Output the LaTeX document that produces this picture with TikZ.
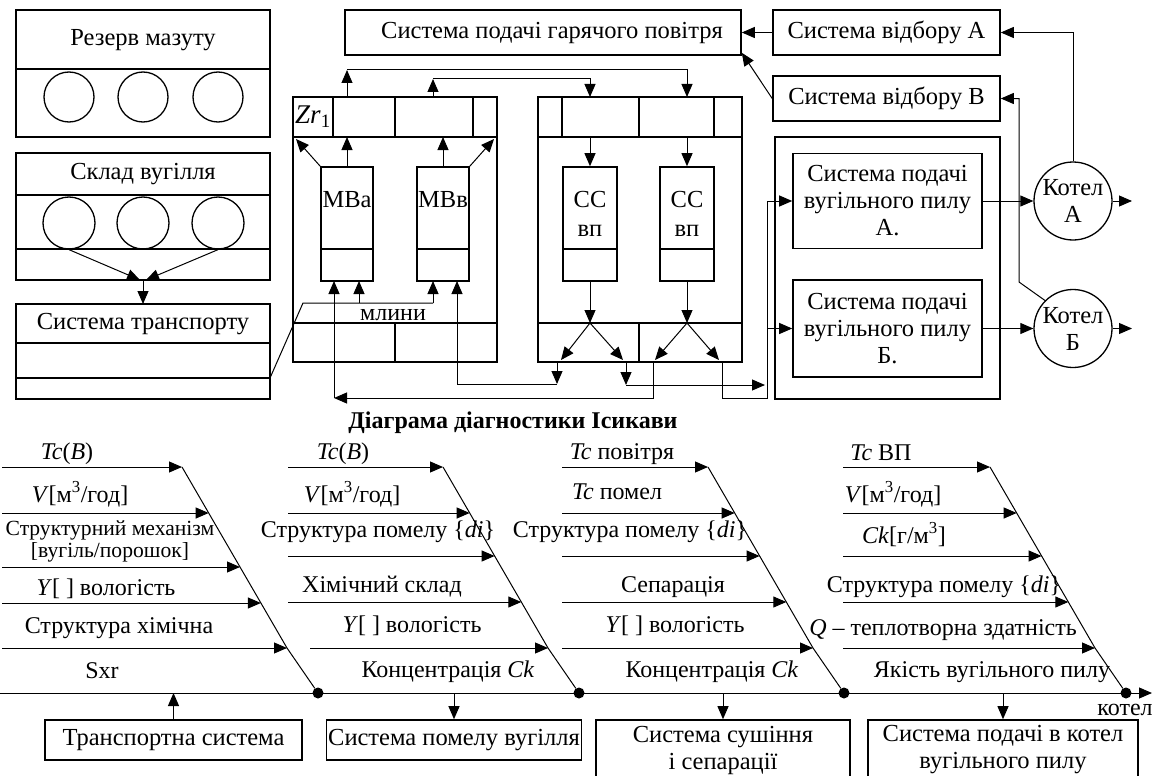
\documentclass[tikz,border=0pt]{standalone}
\usepackage{fontspec}
\setmainfont{Liberation Serif}
\usetikzlibrary{arrows.meta}

\tikzset{
  box/.style={draw, line width=1.6pt, inner sep=0pt},
  frame/.style={line width=2pt},
  thin/.style={line width=1pt},
  conn/.style={line width=1pt, -{Triangle[length=13pt,width=11pt]}},
  txt/.style={font=\fontsize{24.5}{27}\selectfont, inner sep=0pt, align=center},
  fb/.style={font=\fontsize{24}{26}\selectfont, inner sep=0pt, anchor=base},
  tank/.style={circle, draw, line width=1.3pt, minimum size=50pt, inner sep=0pt},
  dot/.style={circle, fill, minimum size=11pt, inner sep=0pt},
}

\begin{document}
\begin{tikzpicture}[x=1pt,y=-1pt]
  \useasboundingbox (0,0) rectangle (1157,776);
  \clip (0,0) rectangle (1157,776);

  % storage
  \draw[box] (16,10) rectangle (270,137);
  \draw[box] (16,69) -- (270,69);
  \node[txt] (mazut) at (143,40) {Резерв мазуту};
  \foreach \x/\n in {69/1,143/2,218/3}
    \node[tank] (r\n) at (\x,97) {};
  \draw[box] (16,153) rectangle (270,280);
  \draw[box] (16,195) -- (270,195);
  \draw[box] (16,249) -- (270,249);
  \node[txt] (sklad) at (143,174) {Склад вугілля};
  \foreach \x/\n in {69/1,143/2,218/3}
    \node[tank, minimum size=52pt] (s\n) at (\x,223) {};
  \coordinate (meet) at (143,280);
  \draw[conn] (s1.south) -- ([xshift=-3pt]meet);
  \draw[conn] (s3.south) -- ([xshift=3pt]meet);
  \draw[box] (16,304) rectangle (270,399);
  \draw[box] (16,343) -- (270,343);
  \draw[box] (16,378) -- (270,378);
  \node[txt] (transp) at (143,324) {Система транспорту};
  \coordinate (transpIn) at (143,304);
  \coordinate (transpOut) at (270,378);
  \draw[conn] (meet) -- (transpIn);

  % mills
  \draw[frame] (293,97) rectangle (497,362);
  \draw[frame] (293,137) -- (497,137);
  \foreach \x in {333,395,473} \draw[frame] (\x,97) -- (\x,137);
  \draw[frame] (293,323) -- (497,323);
  \draw[frame] (395,323) -- (395,362);
  \node[txt, font=\fontsize{27}{29}\selectfont] (zr) at (313,117) {\textit{Zr}\textsubscript{1}};
  \node[box, minimum width=52pt, minimum height=114pt] (mba) at (347,224) {};
  \node[box, minimum width=52pt, minimum height=114pt] (mbb) at (443,224) {};
  \draw[box] (321,249) -- (373,249);
  \draw[box] (417,249) -- (469,249);
  \node[txt] (mbaT) at (347,200) {МВа};
  \node[txt] (mbbT) at (443,200) {МВв};
  \draw[conn] (mba.north west) -- (296,139);
  \draw[conn] (mba.north) -- (347,137);
  \draw[conn] (mbb.north) -- (443,137);
  \draw[conn] (mbb.north east) -- (494,139);
  \coordinate (upA) at (347,70);
  \coordinate (upB) at (433,79);
  \draw[conn] (347,97) -- (upA);
  \draw[conn] (upA) -| (687,97);
  \draw[conn] (433,97) -- (upB);
  \draw[conn] (upB) -| (590,97);
  \coordinate (feedMill) at (433,303);
  \draw[thin] (transpOut) -- (303,303) -- (feedMill);
  \draw[conn] (359,303) -- (359,281);
  \draw[conn] (feedMill) -- (433,281);
  \node[fb] (mlyny) at (393,320) {млини};

  % separators
  \draw[frame] (538,97) rectangle (742,362);
  \draw[frame] (538,137) -- (742,137);
  \foreach \x in {562,639,714} \draw[frame] (\x,97) -- (\x,137);
  \draw[frame] (538,323) -- (742,323);
  \draw[frame] (639,323) -- (639,362);
  \node[box, minimum width=54pt, minimum height=114pt] (cca) at (590,224) {};
  \node[box, minimum width=54pt, minimum height=114pt] (ccb) at (687,224) {};
  \draw[box] (563,249) -- (617,249);
  \draw[box] (660,249) -- (714,249);
  \node[txt, font=\fontsize{24.5}{29}\selectfont] (ccaT) at (590,214) {СС\\вп};
  \node[txt, font=\fontsize{24.5}{29}\selectfont] (ccbT) at (687,214) {СС\\вп};
  \draw[conn] (590,137) -- (cca.north);
  \draw[conn] (687,137) -- (ccb.north);
  \coordinate (splitA) at (590,323);
  \coordinate (splitB) at (687,323);
  \draw[conn] (cca.south) -- (splitA);
  \draw[conn] (ccb.south) -- (splitB);
  \draw[conn] (splitA) -- (561,360);
  \draw[conn] (splitA) -- (623,360);
  \draw[conn] (splitB) -- (655,360);
  \draw[conn] (splitB) -- (719,360);
  \coordinate (retA) at (557,384);
  \coordinate (retB) at (626,385);
  \coordinate (retC) at (334,398);
  \draw[conn] (557,362) -- (retA);
  \draw[conn] (retA) -| (457,281);
  \draw[conn] (626,362) -- (retB);
  \draw[conn] (retB) -- (765,385);
  \draw[conn] (653,362) |- (retC);
  \draw[conn] (retC) -- (334,281);

  % air and boilers
  \node[box, minimum width=396pt, minimum height=45pt] (hotair) at (543,32.5) {};
  \node[txt] (hotairT) at (552,33) {Система подачі гарячого повітря};
  \node[box, txt, minimum width=227pt, minimum height=45pt] (selA) at (886.5,32.5) {Система відбору А};
  \node[box, txt, minimum width=227pt, minimum height=45pt] (selB) at (886.5,98.5) {Система відбору В};
  \draw[conn] (selA.west) -- (hotair.east);
  \draw[conn] (selB.west) -- ([yshift=3pt]hotair.south east);
  \draw[box] (775,137) rectangle (1000,399);
  \node[box, txt, minimum width=189pt, minimum height=95pt] (feedA) at (887.5,201) {Система подачі\\вугільного пилу\\А.};
  \node[box, txt, minimum width=189pt, minimum height=97pt] (feedB) at (887.5,328.5) {Система подачі\\вугільного пилу\\Б.};
  \draw[thin] (722,362) |- (767,398) -- (767,201);
  \draw[conn] (767,201) -- (feedA.west);
  \draw[conn] (767,328.5) -- (feedB.west);
  \node[circle, draw, txt, line width=1.3pt, minimum size=78pt] (kotelA) at (1073,201) {Котел\\А};
  \node[circle, draw, txt, line width=1.3pt, minimum size=78pt] (kotelB) at (1073,328.5) {Котел\\Б};
  \coordinate (outA) at (1132,201);
  \coordinate (outB) at (1132,328.5);
  \draw[conn] (feedA.east) -- (kotelA.west);
  \draw[conn] (feedB.east) -- (kotelB.west);
  \draw[conn] (kotelA.east) -- (outA);
  \draw[conn] (kotelB.east) -- (outB);
  \draw[conn] (kotelA.north) |- (selA.east);
  \draw[conn] (kotelB.north west) -- (1019,282) |- (selB.east);

  % Ishikawa
  \node[fb, font=\bfseries\fontsize{24}{26}\selectfont] (title) at (513,428) {Діаграма діагностики Ісикави};
  \coordinate (tail) at (0,693);
  \coordinate (head) at (1152,693);
  \draw[conn] (tail) -- (head);
  \node[fb] (kotel) at (1125,715) {котел};
  \foreach \t/\n in {182/1,443/2,708/3,990/4}{
    \node[dot] (dot\n) at (\t+136,693) {};
    \draw[thin] (\t,467) -- (\t+105,648) -- (dot\n);
  }
  \foreach \t/\s/\y in {182/2/467,182/2/513,182/2/567,182/2/603,182/2/648,
                        443/288/467,443/288/513,443/288/556,443/288/602,443/310/648,
                        708/562/467,708/562/513,708/562/556,708/562/602,708/562/648,
                        990/843/467,990/843/513,990/843/556,990/843/602,990/843/648}
    \draw[conn] (\s,\y) -- ({\t+(\y-467)/181*105},\y);

  \node[fb] (a1) at (67,459) {\textit{Tc}(\textit{B})};
  \node[fb] (a2) at (80,502) {\textit{V}[м\textsuperscript{3}/год]};
  \node[fb, font=\fontsize{21.6}{24}\selectfont] (a3) at (110,535) {Структурний механізм};
  \node[fb, font=\fontsize{21.6}{24}\selectfont] (a4) at (110,557) {[вугіль/порошок]};
  \node[fb] (a5) at (106,595) {\textit{Y}[ ] вологість};
  \node[fb] (a6) at (119,633) {Структура хімічна};
  \node[fb] (a7) at (102,678) {Sxr};

  \node[fb] (b1) at (343,459) {\textit{Tc}(\textit{B})};
  \node[fb] (b2) at (352,502) {\textit{V}[м\textsuperscript{3}/год]};
  \node[fb] (b3) at (378,537) {Структура помелу \{\textit{di}\}};
  \node[fb] (b4) at (382,592) {Хімічний склад};
  \node[fb] (b5) at (412,632) {\textit{Y}[ ] вологість};
  \node[fb] (b6) at (448,677) {Концентрація \textit{Ck}};

  \node[fb] (c1) at (622,459) {\textit{Tc} повітря};
  \node[fb] (c2) at (617,499) {\textit{Tc} помел};
  \node[fb] (c3) at (630,537) {Структура помелу \{\textit{di}\}};
  \node[fb] (c4) at (673,592) {Сепарація};
  \node[fb] (c5) at (675,632) {\textit{Y}[ ] вологість};
  \node[fb] (c6) at (712,677) {Концентрація \textit{Ck}};

  \node[fb] (d1) at (881,460) {\textit{Tc} ВП};
  \node[fb] (d2) at (893,502) {\textit{V}[м\textsuperscript{3}/год]};
  \node[fb] (d3) at (904,543) {\textit{Ck}[г/м\textsuperscript{3}]};
  \node[fb] (d4) at (944,592) {Структура помелу \{\textit{di}\}};
  \node[fb] (d5) at (943,635) {\textit{Q} -- теплотворна здатність};
  \node[fb] (d6) at (992,677) {Якість вугільного пилу};

  % subsystems
  \node[box, txt, minimum width=257pt, minimum height=40pt] (trSys) at (173.5,740) {Транспортна система};
  \node[box, txt, minimum width=255pt, minimum height=40pt] (grSys) at (454,740) {Система помелу вугілля};
  \node[box, minimum width=254pt, minimum height=90pt] (drSys) at (723,765) {};
  \node[txt] (drT) at (723,750) {Система сушіння\\і сепарації};
  \node[box, minimum width=270pt, minimum height=90pt] (fdSys) at (1003,765) {};
  \node[txt] (fdT) at (1003,750) {Система подачі в котел\\вугільного пилу};
  \draw[conn] (trSys.north) -- (trSys.north |- tail);
  \draw[conn] (grSys.north |- tail) -- (grSys.north);
  \draw[conn] (drSys.north |- tail) -- (drSys.north);
  \draw[conn] (fdSys.north |- tail) -- (fdSys.north);
\end{tikzpicture}
\end{document}
